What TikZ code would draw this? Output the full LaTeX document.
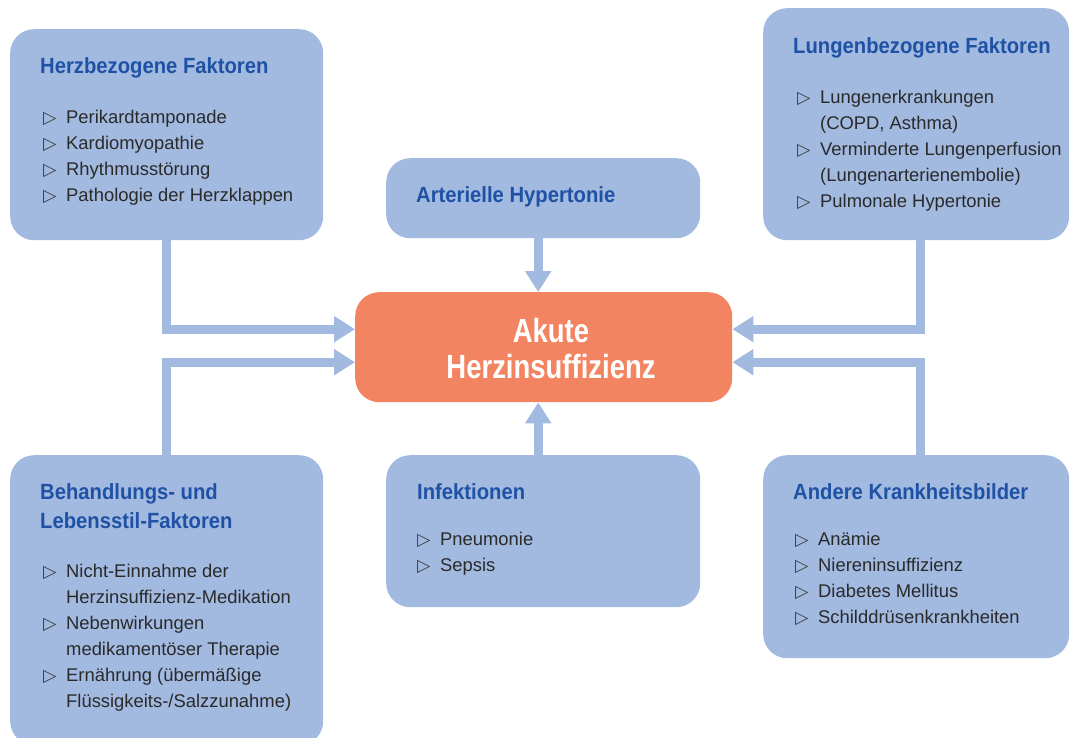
\documentclass[tikz,border=0pt]{standalone}
\usepackage{fontspec}
\setmainfont{Liberation Sans}
\newfontfamily\ttlfont{Liberation Sans}[FakeStretch=0.92]
\newfontfamily\ctrfont{Liberation Sans}[FakeStretch=0.82]
\newfontfamily\symfont{DejaVu Sans}
\usetikzlibrary{arrows.meta}
\definecolor{boxblue}{HTML}{A2B9E0}
\definecolor{titleblue}{HTML}{1F52A4}
\definecolor{bodytext}{HTML}{2A2A2A}
\definecolor{bulletgray}{HTML}{404040}
\definecolor{coreorange}{HTML}{F38462}
\newcommand{\bl}{\makebox[23pt][l]{\raisebox{0pt}{\symfont\fontsize{17.5}{17.5}\selectfont\color{bulletgray}▷}}}
\tikzset{
  box/.style={fill=boxblue, draw=none, rounded corners=24pt, inner sep=0pt, anchor=north west},
  core/.style={fill=coreorange, draw=none, rounded corners=24pt, inner sep=0pt, anchor=north west},
  ttl/.style={anchor=base west, inner sep=0pt, text=titleblue, font=\ttlfont\bfseries\fontsize{22}{29}\selectfont},
  lst/.style={anchor=base west, inner sep=0pt, text=bodytext, font=\fontsize{18.4}{26}\selectfont},
  ctr/.style={anchor=base, inner sep=0pt, text=white, font=\ctrfont\bfseries\fontsize{33.5}{36}\selectfont},
  conn/.style={draw=boxblue, line width=9pt, line join=miter, -{Triangle[width=25pt,length=21pt]}}
}
\begin{document}
\begin{tikzpicture}[x=1pt,y=-1pt]
\useasboundingbox (0,0) rectangle (1070,738);
% boxes
\node[box, minimum width=313pt, minimum height=211pt] (hb) at (10,29) {};
\node[box, minimum width=306pt, minimum height=232pt] (lb) at (763,8) {};
\node[box, minimum width=314pt, minimum height=80pt] (ah) at (386,158) {};
\node[core, minimum width=377pt, minimum height=110pt] (ak) at (355,292) {};
\node[box, minimum width=313pt, minimum height=290pt] (bh) at (10,455) {};
\node[box, minimum width=314pt, minimum height=152pt] (inf) at (386,455) {};
\node[box, minimum width=306pt, minimum height=203pt] (ak2) at (763,455) {};
% texts
\node[ttl] (hb-t) at (40,74) {Herzbezogene Faktoren};
\node[lst] (hb-l) at (43,124) {\begin{tabular}[t]{@{}l@{}l@{}}
\bl & Perikardtamponade\\
\bl & Kardiomyopathie\\
\bl & Rhythmusstörung\\
\bl & Pathologie der Herzklappen
\end{tabular}};
\node[ttl] (lb-t) at (793,54) {Lungenbezogene Faktoren};
\node[lst] (lb-l) at (797,104) {\begin{tabular}[t]{@{}l@{}l@{}}
\bl & Lungenerkrankungen\\
 & (COPD, Asthma)\\
\bl & Verminderte Lungenperfusion\\
 & (Lungenarterienembolie)\\
\bl & Pulmonale Hypertonie
\end{tabular}};
\node[ttl] (ah-t) at (416,203) {Arterielle Hypertonie};
\node[ctr] (ak-t) at (551,342) {\begin{tabular}[t]{@{}c@{}}Akute\\Herzinsuffizienz\end{tabular}};
\node[ttl] (bh-t) at (40,499) {\begin{tabular}[t]{@{}l@{}}Behandlungs- und\\Lebensstil-Faktoren\end{tabular}};
\node[lst] (bh-l) at (43,577) {\begin{tabular}[t]{@{}l@{}l@{}}
\bl & Nicht-Einnahme der\\
 & Herzinsuffizienz-Medikation\\
\bl & Nebenwirkungen\\
 & medikamentöser Therapie\\
\bl & Ernährung (übermäßige\\
 & Flüssigkeits-/Salzzunahme)
\end{tabular}};
\node[ttl] (inf-t) at (417,499) {Infektionen};
\node[lst] (inf-l) at (417,545) {\begin{tabular}[t]{@{}l@{}l@{}}
\bl & Pneumonie\\
\bl & Sepsis
\end{tabular}};
\node[ttl] (ak2-t) at (793,499) {Andere Krankheitsbilder};
\node[lst] (ak2-l) at (795,545) {\begin{tabular}[t]{@{}l@{}l@{}}
\bl & Anämie\\
\bl & Niereninsuffizienz\\
\bl & Diabetes Mellitus\\
\bl & Schilddrüsenkrankheiten
\end{tabular}};
% connectors
\draw[conn] (hb.south) |- ([yshift=18pt]ak.west);
\draw[conn] (bh.north) |- ([yshift=-15pt]ak.west);
\draw[conn] ([xshift=4pt]lb.south) |- ([yshift=18pt]ak.east);
\draw[conn] ([xshift=4pt]ak2.north) |- ([yshift=-15pt]ak.east);
\draw[conn] ([xshift=-5pt]ah.south) -- ([xshift=-5.5pt]ak.north);
\draw[conn] ([xshift=-5pt]inf.north) -- ([xshift=-5.5pt]ak.south);
\end{tikzpicture}
\end{document}
